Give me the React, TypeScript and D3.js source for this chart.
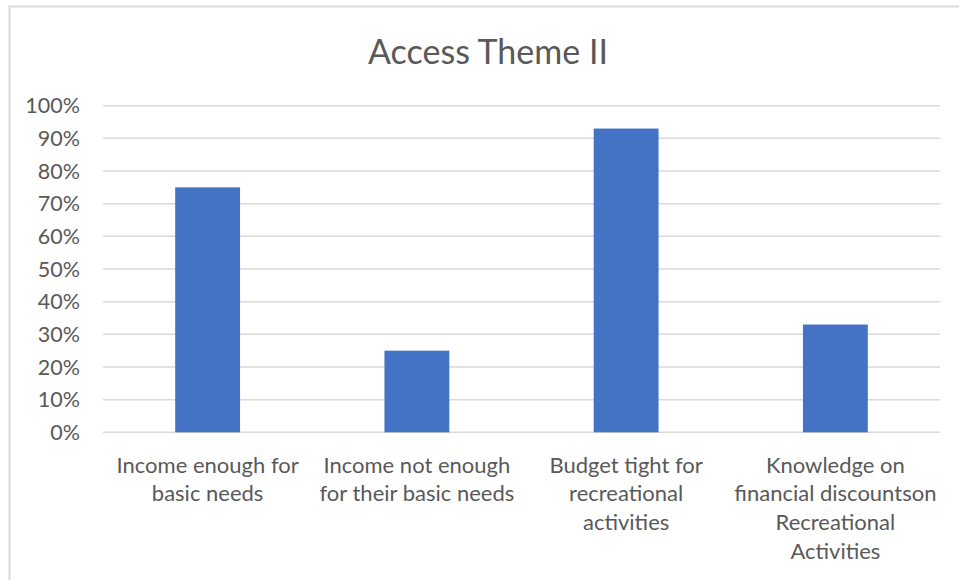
import React from "react";
import * as d3 from "d3";

const title = "Access Theme II";
const categories = [
  ["Income enough for", "basic needs"],
  ["Income not enough", "for their basic needs"],
  ["Budget tight for", "recreational", "activities"],
  ["Knowledge on", "financial discountson", "Recreational", "Activities"],
];
const values = [0.75, 0.25, 0.93, 0.33];
const yTicks = [0, 0.1, 0.2, 0.3, 0.4, 0.5, 0.6, 0.7, 0.8, 0.9, 1.0];

const W = 959;
const H = 580;
const FONT = "Lato, 'Open Sans', sans-serif";

export default function App() {
  const y = d3.scaleLinear().domain([0, 1]).range([432.3, 105.7]);
  const x = d3
    .scaleBand<number>()
    .domain(values.map((_, i) => i))
    .range([103, 940])
    .paddingInner(0.69)
    .paddingOuter(0.345);
  const fmt = d3.format(".0%");
  return (
    <svg
      width={W}
      height={H}
      style={{ position: "absolute", left: 0, top: 0, background: "#fff" }}
    >
      <rect x={9.5} y={6.5} width={W + 10} height={H + 10} fill="#fff" stroke="#d9d9d9" strokeWidth={2} />
      <text x={488} y={63.5} textAnchor="middle" fontFamily={FONT} fontSize={34} fill="#595959">
        {title}
      </text>
      {yTicks.map((t) => (
        <g key={t}>
          <line x1={103} x2={940} y1={y(t)} y2={y(t)} stroke="#d9d9d9" strokeWidth={1.5} />
          <text x={80} y={y(t)} dy="0.35em" textAnchor="end" fontFamily={FONT} fontSize={21.5} fill="#595959">
            {fmt(t)}
          </text>
        </g>
      ))}
      {values.map((v, i) => (
        <rect key={i} x={x(i)} y={y(v)} width={x.bandwidth()} height={y(0) - y(v)} fill="#4472c4" />
      ))}
      {categories.map((lines, i) => (
        <text key={i} textAnchor="middle" fontFamily={FONT} fontSize={22} fill="#595959">
          {lines.map((l, j) => (
            <tspan key={j} x={(x(i) as number) + x.bandwidth() / 2} y={472.5 + j * 28.8}>
              {l}
            </tspan>
          ))}
        </text>
      ))}
    </svg>
  );
}
